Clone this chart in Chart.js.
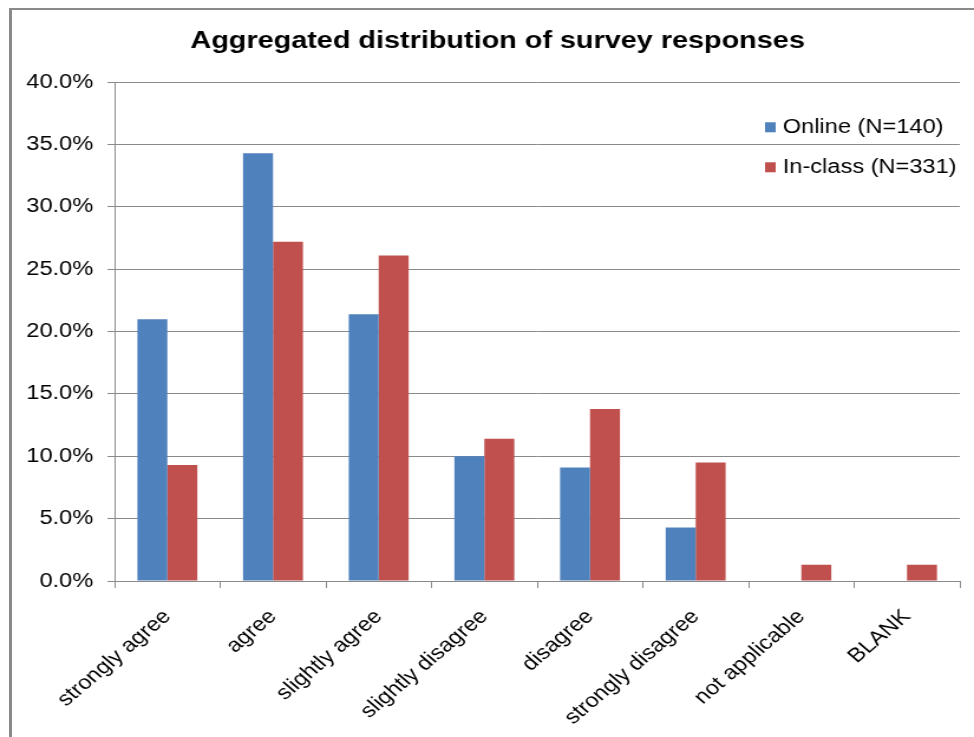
<!DOCTYPE html>
<html>
<head>
<meta charset="utf-8">
<script src="https://cdn.jsdelivr.net/npm/chart.js@4/dist/chart.umd.min.js"></script>
<style>
	html, body { margin: 0; padding: 0; background: #fff; overflow: hidden; }
	#frame {
		position: absolute; left: 9px; top: 8px; width: 1100px; height: 900px;
		border-left: 3px solid #8a8a8a; border-top: 2px solid #8a8a8a;
	}
	#resultChart { position: absolute; left: 0; top: 0; }
</style>
</head>
<body>
<div id="frame"></div>
<!-- the original picture is a horizontally stretched screenshot, so the canvas is stretched too -->
<canvas id="resultChart" width="825" height="737" style="width:974px;height:737px"></canvas>
<script>
const categories = ['strongly agree', 'agree', 'slightly agree', 'slightly disagree',
	'disagree', 'strongly disagree', 'not applicable', 'BLANK'];
const onlineValues = [21.0, 34.3, 21.4, 10.0, 9.1, 4.3, 0, 0];
const inClassValues = [9.3, 27.2, 26.1, 11.4, 13.8, 9.5, 1.3, 1.3];
const seriesLabels = ['Online (N=140)', 'In-class (N=331)'];
const yTicks = [0, 5, 10, 15, 20, 25, 30, 35, 40];

const gridColor = '#8a8a8a';
const labelFont = { family: '"Liberation Sans", Arial, sans-serif', size: 20 };

// legend drawn inside the plot area, top right, like the Excel original
const insideLegend = {
	id: 'insideLegend',
	afterLayout(chart) {
		// let the y labels run into the left padding without being clipped
		chart.scales.y.left = 0;
	},
	afterDatasetsDraw(chart) {
		const { ctx, chartArea } = chart;
		const x0 = chartArea.right - 165;
		ctx.save();
		ctx.font = `${labelFont.size}px ${labelFont.family}`;
		ctx.textBaseline = 'middle';
		ctx.textAlign = 'left';
		chart.data.datasets.forEach((ds, i) => {
			const y = chartArea.top + 45 + 40 * i;
			ctx.fillStyle = ds.backgroundColor;
			ctx.fillRect(x0, y - 5, 9, 10);
			ctx.fillStyle = '#000';
			ctx.fillText(ds.label, x0 + 15, y);
		});
		ctx.restore();
	}
};

const ctx = document.getElementById('resultChart').getContext('2d');
new Chart(ctx, {
	type: 'bar',
	data: {
		labels: categories,
		datasets: [
			{
				label: seriesLabels[0],
				data: onlineValues,
				backgroundColor: '#4F81BD',
				categoryPercentage: 0.567,
				barPercentage: 1
			},
			{
				label: seriesLabels[1],
				data: inClassValues,
				backgroundColor: '#C0504D',
				categoryPercentage: 0.567,
				barPercentage: 1
			}
		]
	},
	options: {
		responsive: false,
		animation: false,
		layout: { padding: { left: 30, right: 12, top: 0, bottom: 0 } },
		plugins: {
			legend: { display: false },
			tooltip: { enabled: false },
			title: {
				display: true,
				text: 'Aggregated distribution of survey responses',
				color: '#000',
				font: { family: labelFont.family, size: 24.4, weight: 'bold' },
				padding: { top: 27, bottom: 26 }
			}
		},
		scales: {
			x: {
				grid: { display: true, drawOnChartArea: false, drawTicks: true, tickLength: 7, color: gridColor },
				border: { color: gridColor },
				ticks: {
					color: '#000', font: labelFont, padding: 17,
					minRotation: 45, maxRotation: 45, autoSkip: false
				},
				afterFit(scale) { scale.height = 156; }
			},
			y: {
				min: 0,
				max: 40,
				afterBuildTicks(scale) { scale.ticks = yTicks.map(v => ({ value: v })); },
				grid: { color: gridColor, tickLength: 6 },
				border: { color: gridColor },
				ticks: {
					color: '#000', font: labelFont, padding: 12,
					callback: v => v.toFixed(1) + '%'
				},
				afterFit(scale) { scale.width = 67; }
			}
		}
	},
	plugins: [insideLegend]
});
</script>
</body>
</html>
